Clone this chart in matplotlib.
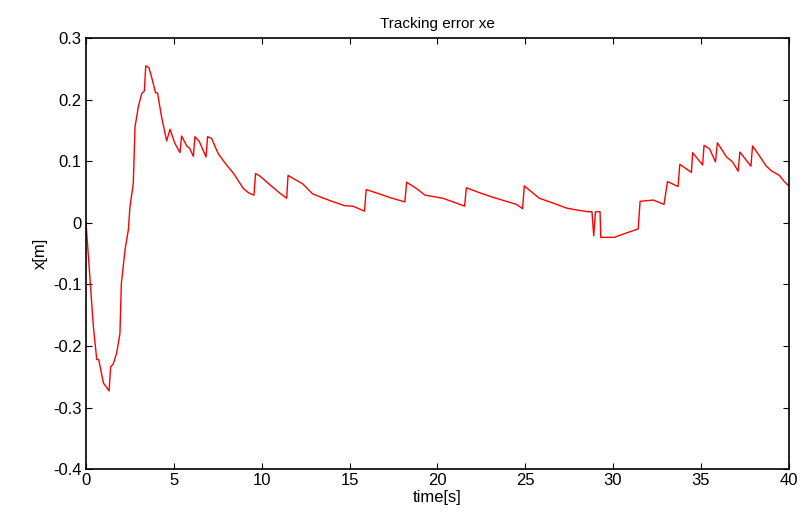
import matplotlib
matplotlib.use("Agg")
import matplotlib.pyplot as plt

# time [s] and tracking error xe [m]
t = [0.0, 0.42, 0.61, 0.72, 0.99, 1.31, 1.40, 1.55, 1.74, 1.93, 2.01, 2.22, 2.41,
     2.50, 2.69, 2.79, 2.98, 3.17, 3.32, 3.40, 3.58, 3.73, 3.96, 4.07, 4.30, 4.59,
     4.78, 5.06, 5.35, 5.44, 5.73, 5.90, 6.11, 6.20, 6.45, 6.83, 6.92, 7.15, 7.53,
     8.00, 8.38, 8.95, 9.24, 9.56, 9.65, 9.90, 10.38, 11.00, 11.42, 11.50, 12.35,
     12.90, 13.90, 14.70, 15.20, 15.85, 15.95, 16.60, 17.30, 18.15, 18.25, 18.80,
     19.30, 20.30, 21.00, 21.55, 21.65, 22.30, 23.00, 23.80, 24.50, 24.85, 24.95,
     25.80, 26.60, 27.35, 27.90, 28.60, 28.80, 28.90, 29.00, 29.26, 29.30, 30.07,
     30.80, 31.43, 31.54, 32.30, 32.90, 33.10, 33.70, 33.80, 34.46, 34.53, 35.10,
     35.18, 35.50, 35.83, 35.94, 36.46, 36.80, 37.12, 37.22, 37.85, 37.94, 38.28,
     38.70, 38.99, 39.47, 39.75, 40.0]
xe = [0.0, -0.169, -0.222, -0.222, -0.26, -0.273, -0.234, -0.229, -0.212, -0.18,
      -0.099, -0.044, -0.011, 0.026, 0.064, 0.156, 0.189, 0.21, 0.214, 0.255, 0.252,
      0.237, 0.211, 0.211, 0.172, 0.133, 0.152, 0.129, 0.114, 0.141, 0.125, 0.121,
      0.108, 0.14, 0.132, 0.107, 0.14, 0.137, 0.112, 0.094, 0.081, 0.056, 0.049,
      0.045, 0.08, 0.076, 0.064, 0.049, 0.04, 0.077, 0.063, 0.047, 0.036, 0.028,
      0.027, 0.019, 0.054, 0.048, 0.041, 0.034, 0.066, 0.056, 0.045, 0.04, 0.033,
      0.027, 0.057, 0.05, 0.043, 0.036, 0.03, 0.023, 0.06, 0.04, 0.032, 0.024,
      0.021, 0.018, 0.018, -0.021, 0.018, 0.018, -0.0235, -0.0235, -0.016, -0.01,
      0.035, 0.037, 0.03, 0.067, 0.059, 0.095, 0.082, 0.114, 0.094, 0.126, 0.12,
      0.099, 0.13, 0.107, 0.099, 0.084, 0.115, 0.092, 0.125, 0.111, 0.093, 0.085,
      0.077, 0.067, 0.06]

xticks = [0, 5, 10, 15, 20, 25, 30, 35, 40]
yticks = [-0.4, -0.3, -0.2, -0.1, 0, 0.1, 0.2, 0.3]
ylabels = ["-0.4", "-0.3", "-0.2", "-0.1", "0", "0.1", "0.2", "0.3"]

plt.rcParams['font.family'] = ['Liberation Sans', 'DejaVu Sans']

fig = plt.figure(figsize=(8.04, 5.15), dpi=100)
ax = fig.add_axes([0.107, 0.089, 0.874, 0.837])
ax.plot(t, xe, color='red', linewidth=1.0)

ax.set_xlim(0, 40)
ax.set_ylim(-0.4, 0.3)
ax.set_xticks(xticks)
ax.set_xticklabels([str(v) for v in xticks])
ax.set_yticks(yticks)
ax.set_yticklabels(ylabels)
ax.tick_params(direction='in', top=True, right=True, labelsize=12, length=4, width=0.8, pad=3)
for s in ax.spines.values():
    s.set_linewidth(1.2)

ax.set_title("Tracking error xe", fontsize=11, pad=7)
ax.set_xlabel("time[s]", fontsize=12, labelpad=1)
ax.set_ylabel("x[m]", fontsize=12, labelpad=4)

fig.savefig("out.png", dpi=100)
